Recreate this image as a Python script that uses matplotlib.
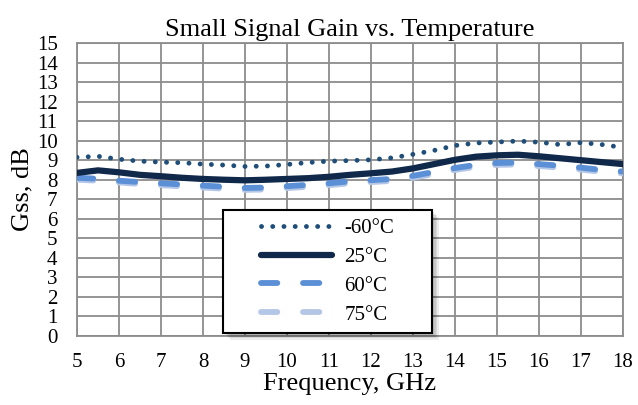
import numpy as np
import matplotlib
matplotlib.use('Agg')
import matplotlib.pyplot as plt
from matplotlib.patches import Rectangle

# Frequency points, GHz
freq = [5, 5.5, 6, 6.5, 7, 7.5, 8, 8.5, 9, 9.5, 10, 10.5, 11, 11.5, 12,
        12.5, 13, 13.5, 14, 14.5, 15, 15.5, 16, 16.5, 17, 17.5, 18]

# Small signal gain, dB
gss_m60 = [9.15, 9.2, 9.05, 8.95, 8.9, 8.87, 8.8, 8.75, 8.68, 8.7, 8.78, 8.88, 8.95, 8.98,
           9.02, 9.12, 9.3, 9.5, 9.75, 9.88, 9.93, 9.98, 9.92, 9.8, 9.9, 9.8, 9.65]
gss_25 = [8.35, 8.48, 8.38, 8.25, 8.18, 8.1, 8.04, 8.0, 7.97, 8.0, 8.04, 8.08, 8.15, 8.25,
          8.33, 8.42, 8.58, 8.8, 9.02, 9.18, 9.25, 9.28, 9.2, 9.1, 9.0, 8.9, 8.8]
gss_60 = [8.1, 8.05, 7.95, 7.88, 7.82, 7.76, 7.7, 7.64, 7.58, 7.6, 7.67, 7.74, 7.82, 7.92,
          7.98, 8.04, 8.2, 8.4, 8.6, 8.76, 8.86, 8.88, 8.8, 8.72, 8.62, 8.5, 8.42]
gss_75 = [8.0, 7.95, 7.86, 7.78, 7.72, 7.66, 7.6, 7.54, 7.48, 7.5, 7.57, 7.64, 7.72, 7.82,
          7.88, 7.94, 8.1, 8.3, 8.5, 8.66, 8.76, 8.78, 8.7, 8.62, 8.52, 8.4, 8.32]

labels = ['-60°C', '25°C', '60°C', '75°C']

plt.rcParams['font.family'] = ['Liberation Serif', 'DejaVu Serif']

fig = plt.figure(figsize=(6.38, 4.05), dpi=100)
ax = fig.add_axes([77 / 638, 1 - 336 / 405, (623 - 77) / 638, (336 - 43) / 405])

l1, = ax.plot(freq, gss_m60, color='#1F4E79', lw=3.5, linestyle=(0, (0.01, 2.3)),
              dash_capstyle='round', zorder=3)
l4, = ax.plot(freq, gss_75, color='#B4C7E7', lw=4.2, linestyle=(0, (2.8, 4.4)),
              dash_capstyle='round', zorder=3)
l3, = ax.plot(freq, gss_60, color='#5B8FD6', lw=4.2, linestyle=(0, (2.8, 4.4)),
              dash_capstyle='round', zorder=3)
l2, = ax.plot(freq, gss_25, color='#10284A', lw=4.5, solid_capstyle='round', zorder=4)

ax.set_xlim(5, 18)
ax.set_ylim(0, 15)
ax.set_xticks(range(5, 19))
ax.set_yticks(range(0, 16))
ax.grid(True, color='#8C8C8C', lw=1.3)
ax.set_axisbelow(True)
for s in ax.spines.values():
    s.set_color('#8C8C8C')
    s.set_linewidth(1.3)
ax.tick_params(length=0, labelsize=15)
ax.tick_params(axis='x', pad=12)
ax.tick_params(axis='y', pad=14)

ax.set_title('Small Signal Gain vs. Temperature', fontsize=19, pad=5)
ax.set_xlabel('Frequency, GHz', fontsize=19, labelpad=1)
ax.set_ylabel('Gss, dB', fontsize=19, labelpad=2)

# legend box with shadow (figure pixel coords)
W, H = 638, 405
bx0, by0, bx1, by1 = 223, 210, 432, 333
for i in range(4):
    off = 2 + i * 1.5
    fig.patches.append(Rectangle(((bx0 + off) / W, 1 - (by1 + off) / H), (bx1 - bx0) / W,
                                 (by1 - by0) / H, transform=fig.transFigure,
                                 facecolor='black', edgecolor='none', alpha=0.08, zorder=5))
fig.patches.append(Rectangle((bx0 / W, 1 - by1 / H), (bx1 - bx0) / W, (by1 - by0) / H,
                             transform=fig.transFigure, facecolor='white',
                             edgecolor='black', lw=1.5, zorder=6))

leg = fig.legend([l1, l2, l3, l4], labels, loc='center',
                 bbox_to_anchor=((bx0 + bx1) / 2 / W, 1 - (by0 + by1) / 2 / H),
                 frameon=False, fontsize=15, handlelength=3.4, handletextpad=0.6,
                 labelspacing=0.45)
leg.set_zorder(7)

fig.savefig('out.png', dpi=100)
